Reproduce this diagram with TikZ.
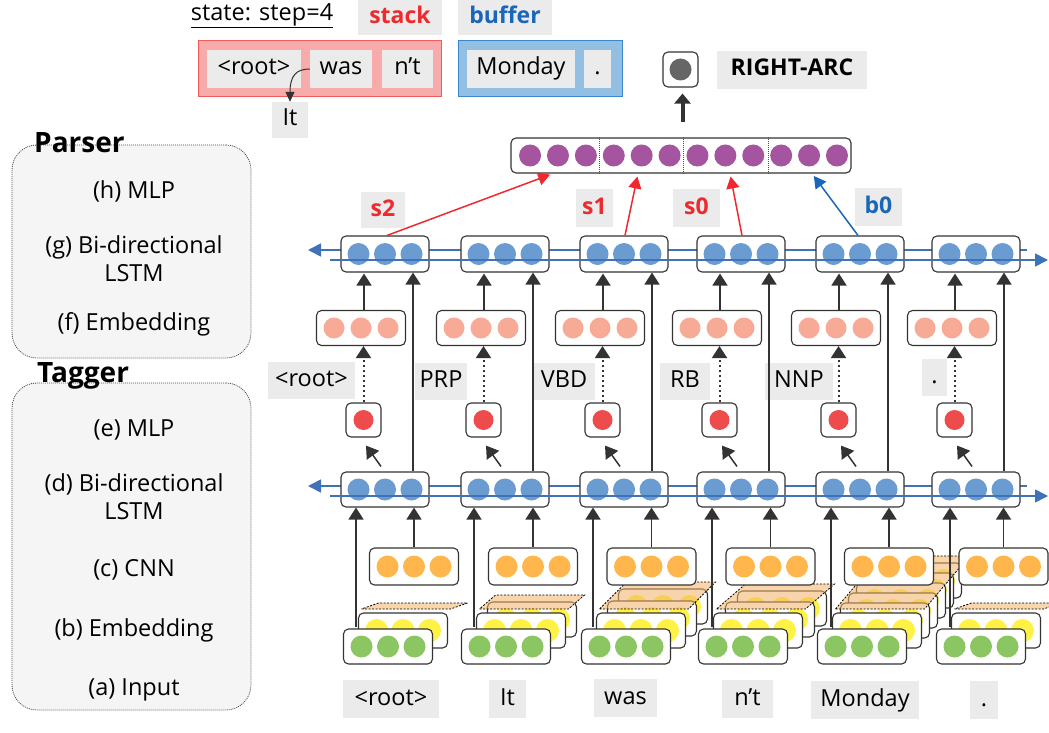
\documentclass[tikz,border=0pt]{standalone}
\usepackage{fontspec}
\setmainfont{Open Sans}
\usetikzlibrary{arrows.meta}
\definecolor{bc}{HTML}{333333}
\definecolor{lg}{HTML}{EBEBEB}
\definecolor{lstmc}{HTML}{6A9BD1}
\definecolor{lstml}{HTML}{4072BA}
\definecolor{salm}{HTML}{F7AA96}
\definecolor{redc}{HTML}{EE4C4C}
\definecolor{orc}{HTML}{FFB74D}
\definecolor{yelc}{HTML}{FFF244}
\definecolor{grc}{HTML}{8BC663}
\definecolor{purc}{HTML}{A5559F}
\definecolor{outc}{HTML}{666666}
\definecolor{redt}{HTML}{EE2A2E}
\definecolor{bluet}{HTML}{1A66B8}
\definecolor{stackf}{HTML}{F8ABAB}
\definecolor{stackd}{HTML}{F05B5B}
\definecolor{buff}{HTML}{93BFE3}
\definecolor{bufd}{HTML}{3A87CC}
\definecolor{panelf}{HTML}{F5F5F5}
\definecolor{paraf}{HTML}{F2B266}
\newcommand\msz{\fontsize{23.5}{28}\selectfont}
\newcommand\bsz{\fontsize{23}{28}\selectfont\bfseries}
\newcommand\tsz{\fontsize{28}{32}\selectfont\bfseries}
\newcommand\rowballs[5]{\foreach \k in {1,...,#2}{\fill[#5] ([xshift={(\k-(#2+1)/2)*#3}]#1.center) circle (#4pt);}}
\begin{document}
\begin{tikzpicture}[x=1pt,y=-1pt,
  cell/.style={draw=bc, line width=1.1pt, rounded corners=5pt, fill=white, inner sep=0pt},
  lbl/.style={fill=lg, inner sep=0pt, minimum height=37pt, font=\msz, text=black, text height=17pt, text depth=5pt},
  blbl/.style={lbl, font=\bsz},
  arr/.style={draw=bc, line width=1.5pt, -{Triangle[width=15pt,length=12pt]}},
  dotarr/.style={arr, line width=2pt, dash pattern=on 2.5pt off 2.5pt},
  featr/.style={line width=1.5pt, -{Triangle[width=13pt,length=12pt]}, shorten >=3pt},
  lstmarr/.style={draw=lstml, line width=1.6pt, -{Triangle[width=13pt,length=13pt]}},
  panel/.style={draw=black!70, dash pattern=on 1pt off 1pt, line width=0.8pt, fill=panelf, rounded corners=25pt, inner sep=0pt},
  para/.style={fill=paraf, fill opacity=0.55, draw=black, dash pattern=on 2pt off 1.5pt, line width=0.8pt},
  ptxt/.style={font=\msz, align=center, inner sep=0pt}
]
\useasboundingbox (0,0) rectangle (1049,733);

% ---------- side panels ----------
\node[panel, minimum width=239pt, minimum height=213pt] (pp) at (131.5,251.5) {};
\node[font=\tsz, anchor=west, inner sep=0pt] (ppt) at (34,143) {Parser};
\node[ptxt] (ph) at (134,191) {(h) MLP};
\node[ptxt] (pg) at (134,259) {(g) Bi-directional\\LSTM};
\node[ptxt] (pf) at (134,324) {(f) Embedding};
\node[panel, minimum width=239pt, minimum height=327pt] (tp) at (131.5,546.5) {};
\node[font=\tsz, anchor=west, inner sep=0pt] (tpt) at (37,376) {Tagger};
\node[ptxt] (te) at (134,430) {(e) MLP};
\node[ptxt] (td) at (134,497) {(d) Bi-directional\\LSTM};
\node[ptxt] (tc) at (134,570) {(c) CNN};
\node[ptxt] (tb) at (134,630) {(b) Embedding};
\node[ptxt] (ta) at (134,690) {(a) Input};

% ---------- state ----------
\node[font=\msz, inner sep=0pt] (st) at (262,16) {\underline{state: step=4}};
\node[blbl, text=redt, minimum width=84pt, minimum height=35pt] (stk) at (400,17.5) {stack};
\node[blbl, text=bluet, minimum width=94pt, minimum height=35pt] (buf) at (505,17.5) {buffer};
\node[draw=stackd, fill=stackf, line width=1pt, minimum width=243pt, minimum height=56pt, inner sep=0pt] (sbox) at (319.5,69) {};
\node[lbl, minimum width=94pt, minimum height=38pt] (sroot) at (254,69) {<root>};
\node[lbl, minimum width=62pt, minimum height=38pt] (swas) at (341,69) {was};
\node[lbl, minimum width=51pt, minimum height=38pt] (snt) at (407.5,69) {n’t};
\node[draw=bufd, fill=buff, line width=1pt, minimum width=164pt, minimum height=56pt, inner sep=0pt] (bbox) at (540,69) {};
\node[lbl, minimum width=108pt, minimum height=38pt] (bmon) at (521,69) {Monday};
\node[lbl, minimum width=27pt, minimum height=38pt] (bdot) at (597.5,69) {.};
\node[lbl, minimum width=36pt, minimum height=36pt] (sit) at (290,120) {It};
\draw[draw=bc, line width=1pt, -{Triangle[width=9pt,length=10pt]}] (swas.west) .. controls (296,69) and (290,76) .. (sit.north);

% ---------- LSTM back lines ----------
\coordinate (uLa) at (308,250); \coordinate (uRa) at (1027,250);
\draw[lstmarr] (uRa) -- (uLa);
\coordinate (lLa) at (308,486); \coordinate (lRa) at (1027,486);
\draw[lstmarr] (lRa) -- (lLa);

% ---------- column upper parts ----------
\foreach \i/\cx in {1/385,2/505,3/624,4/741,5/860,6/976}{
  \node[cell, minimum width=88pt, minimum height=36pt] (ul\i) at (\cx,254) {};
  \rowballs{ul\i}{3}{26.5}{11}{lstmc}
  \node[cell, minimum width=88pt, minimum height=35pt] (ll\i) at (\cx,489.5) {};
  \rowballs{ll\i}{3}{26.5}{11}{lstmc}
  \node[cell, minimum width=89pt, minimum height=35pt] (em\i) at (\cx-24,328) {};
  \rowballs{em\i}{3}{27}{10.5}{salm}
  \node[cell, minimum width=35pt, minimum height=34pt] (tg\i) at (\cx-21.5,420) {};
  \fill[redc] (tg\i.center) circle (10pt);
}

% LSTM front lines
\coordinate (uLb) at (330,260); \coordinate (uRb) at (1048,260);
\draw[lstmarr] (uLb) -- (uRb);
\coordinate (lLb) at (330,496); \coordinate (lRb) at (1048,496);
\draw[lstmarr] (lLb) -- (lRb);

% tag labels
\node[lbl, minimum width=87pt] (t1) at (311.5,380) {<root>};
\node[lbl, minimum width=52pt] (t2) at (441,381) {PRP};
\node[lbl, minimum width=62pt] (t3) at (564,381) {VBD};
\node[lbl, minimum width=50pt] (t4) at (685,381) {RB};
\node[lbl, minimum width=68pt] (t5) at (799,381) {NNP};
\node[lbl, minimum width=25pt] (t6) at (934.5,377) {.};

\foreach \i in {1,...,6}{
  \draw[arr, shorten >=1pt] ([xshift=3pt]em\i.north) -- ([xshift=3pt]em\i.north |- ul\i.south);
  \draw[arr] ([xshift=28pt]ll\i.north) -- ([xshift=28pt]ul\i.south);
  \draw[dotarr] (tg\i.north) -- (tg\i.north |- em\i.south);
  \draw[arr] ([xshift=-4pt,yshift=5pt]ll\i.north) -- ([xshift=2.5pt,yshift=-8pt]tg\i.south);
}

% ---------- bottom stacks ----------
\foreach \i/\gx/\n/\dx/\dy/\sx/\sy in {1/388/1/0/0/17/-6, 2/506/2/11/-11/16/-14, 3/626/3/11/-12/27/-27, 4/743/3/12/-11/29/-25, 5/862/6/8/-10/45/-53, 6/981/1/0/0/17/-6}{
  \pgfmathtruncatemacro\m{\n-1}
  \ifnum\m>0
    \foreach \j in {\m,...,1}{
      \node[cell, minimum width=89pt, minimum height=35pt] (yb\i-\j) at (\gx+15+\j*\dx, 630.5+\j*\dy) {};
      \rowballs{yb\i-\j}{3}{26.5}{11.5}{yelc}
    }
  \fi
  \filldraw[para] (\gx-26.5,609) -- (\gx+62.5,609) -- ++(\sx,\sy) -- (\gx-26.5+\sx,609+\sy) -- cycle;
  \node[cell, minimum width=89pt, minimum height=35pt] (yf\i) at (\gx+15,630.5) {};
  \rowballs{yf\i}{3}{26.5}{11.5}{yelc}
  \node[cell, minimum width=89pt, minimum height=35pt] (in\i) at (\gx,646.5) {};
  \rowballs{in\i}{3}{26.5}{11}{grc}
}

\foreach \i/\ox in {1/414,2/533,3/651.5,4/770.5,5/889,6/1003.5}{
  \node[cell, minimum width=89pt, minimum height=37pt] (cn\i) at (\ox,566.5) {};
  \rowballs{cn\i}{3}{26.5}{11}{orc}
}

\foreach \i/\sxx in {1/356,2/474,3/593,4/712,5/831,6/950}{
  \coordinate (sk\i) at (\sxx,627);
  \draw[arr] (sk\i) -- (sk\i |- ll\i.south);
  \draw[arr] (cn\i.north) -- (cn\i.north |- ll\i.south);
}

% words
\node[lbl, minimum width=96pt, minimum height=38pt] (w1) at (391,699) {<root>};
\node[lbl, minimum width=37pt, minimum height=38pt] (w2) at (507.5,699) {It};
\node[lbl, minimum width=63pt, minimum height=38pt] (w3) at (625.5,698) {was};
\node[lbl, minimum width=51pt, minimum height=38pt] (w4) at (747.5,699) {n’t};
\node[lbl, minimum width=108pt, minimum height=38pt] (w5) at (865,700) {Monday};
\node[lbl, minimum width=28pt, minimum height=38pt] (w6) at (984,700) {.};

% ---------- parser output ----------
\node[cell, minimum width=340pt, minimum height=35pt] (par) at (681,155.5) {};
\foreach \k in {0,...,11}{\fill[purc] ([xshift={(\k-5.5)*27.9+2.5}]par.center) circle (11pt);}
\foreach \d in {-82,2,87}{\draw[black!70, dash pattern=on 1pt off 1pt, line width=0.7pt] ([xshift=\d]par.north) -- ([xshift=\d]par.south);}
\node[cell, minimum width=35pt, minimum height=35pt] (out) at (680.5,69.5) {};
\fill[outc] (out.center) circle (11pt);
\draw[draw=bc, line width=4pt, -{Triangle[width=16pt,length=10pt]}, shorten <=15pt, shorten >=6pt] ([xshift=1.5pt]par.north) -- ([xshift=1.5pt]par.north |- out.south);
\node[blbl, minimum width=150pt, minimum height=38pt] (ra) at (792,70) {RIGHT-ARC};

\node[blbl, text=redt, minimum width=44pt, minimum height=36pt] (ls2) at (383,210) {s2};
\node[blbl, text=redt, minimum width=37pt, minimum height=38pt] (ls1) at (594.5,208) {s1};
\node[blbl, text=redt, minimum width=47pt, minimum height=38pt] (ls0) at (696.5,208) {s0};
\node[blbl, text=bluet, minimum width=47pt, minimum height=38pt] (lb0) at (878.5,207) {b0};

\draw[featr, draw=redt] ([xshift=2pt]ul1.north) -- ([xshift=-128pt]par.south);
\draw[featr, draw=redt] ([xshift=1pt]ul3.north) -- ([xshift=-43pt]par.south);
\draw[featr, draw=redt] ([xshift=1pt]ul4.north) -- ([xshift=49pt]par.south);
\draw[featr, draw=bluet] ([xshift=-2pt]ul5.north) -- ([xshift=131pt]par.south);
\end{tikzpicture}
\end{document}
